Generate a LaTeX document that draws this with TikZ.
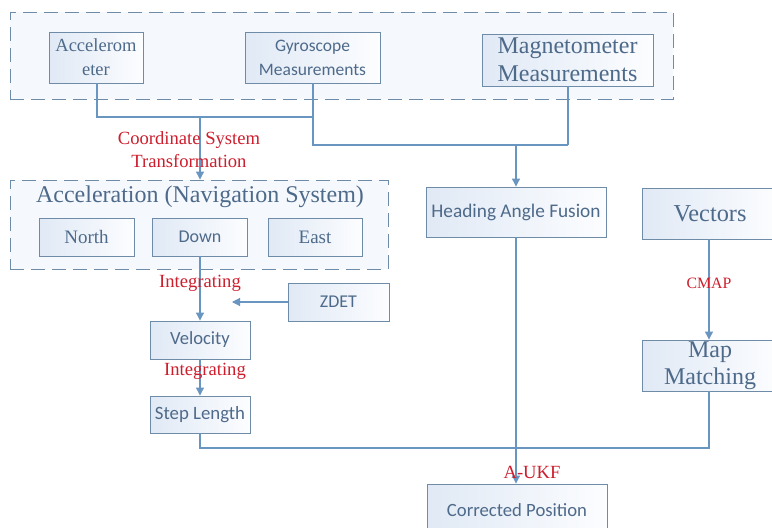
\documentclass[tikz,border=0pt]{standalone}
\usepackage{fontspec}
\setmainfont{Liberation Serif}
\newfontfamily\calib{Carlito}
\usetikzlibrary{arrows.meta}
\definecolor{lineblue}{RGB}{105,150,192}
\definecolor{boxline}{RGB}{110,140,168}
\definecolor{txtblue}{RGB}{78,106,138}
\definecolor{redlab}{RGB}{205,30,45}
\definecolor{boxleft}{RGB}{224,233,245}
\definecolor{boxright}{RGB}{252,253,255}
\definecolor{contfill}{RGB}{245,248,252}
\tikzset{
  box/.style={draw=boxline, line width=0.9pt, left color=boxleft, right color=boxright,
    inner sep=0pt, align=center, text=txtblue},
  sansbox/.style={box, font=\calib\fontsize{18}{24}\selectfont},
  serifbox/.style={box, font=\fontsize{19}{24}\selectfont},
  bigserif/.style={box, font=\fontsize{24}{28}\selectfont},
  container/.style={draw=boxline, line width=0.9pt, dash pattern=on 14pt off 7pt, fill=contfill, inner sep=0pt},
  conn/.style={draw=lineblue, line width=1.1pt},
  arr/.style={conn, -{Triangle[length=8pt,width=8pt]}},
  redlabel/.style={text=redlab, font=\fontsize{18.6}{23}\selectfont, align=center, inner sep=0pt},
}
\begin{document}
\begin{tikzpicture}[x=1pt,y=-1pt]
\useasboundingbox (0,0) rectangle (772,528);
\clip (0,0) rectangle (772,528);
\fill[white] (0,0) rectangle (772,528);
% containers
\node[container, minimum width=663pt, minimum height=87pt] (top) at (341.5,55.5) {};
\node[container, minimum width=378pt, minimum height=89pt] (accnav) at (199,224.5) {};
% top boxes
\node[serifbox, minimum width=94pt, minimum height=51pt, font=\fontsize{18.5}{24}\selectfont] (acc) at (96,57.5) {Accelerom\\eter};
\node[sansbox, minimum width=135pt, minimum height=51pt, font=\calib\fontsize{17.5}{24}\selectfont] (gyro) at (312.5,57.5) {Gyroscope\\Measurements};
\node[bigserif, minimum width=171pt, minimum height=52pt] (mag) at (567.5,60) {Magnetometer\\Measurements};
% acceleration
\node[text=txtblue, font=\fontsize{24}{28}\selectfont, inner sep=0pt] (acctitle) at (200,197) {Acceleration (Navigation System)};
\node[serifbox, minimum width=95pt, minimum height=38pt] (north) at (86.5,237) {North};
\node[sansbox, minimum width=95pt, minimum height=38pt] (down) at (200,237) {Down};
\node[serifbox, minimum width=94pt, minimum height=38pt] (east) at (315,237) {East};
% middle
\node[sansbox, minimum width=180pt, minimum height=50pt, font=\calib\fontsize{19.3}{24}\selectfont] (heading) at (516,212) {Heading Angle Fusion};
\node[bigserif, minimum width=136pt, minimum height=51pt, font=\fontsize{24.3}{28}\selectfont] (vectors) at (710,213.5) {Vectors};
\node[sansbox, minimum width=101pt, minimum height=38pt] (zdet) at (338.5,302) {ZDET};
\node[sansbox, minimum width=100pt, minimum height=38pt, font=\calib\fontsize{18.6}{24}\selectfont] (vel) at (200,340) {Velocity};
\node[sansbox, minimum width=100pt, minimum height=37pt, font=\calib\fontsize{18.8}{24}\selectfont] (step) at (200,414.5) {Step Length};
\node[bigserif, minimum width=136pt, minimum height=51pt, font=\fontsize{24}{27}\selectfont] (mapm) at (710,365.5) {Map\\Matching};
\node[sansbox, minimum width=180pt, minimum height=52pt, font=\calib\fontsize{18.7}{24}\selectfont] (corr) at (517,510) {Corrected Position};
% coordinates
\coordinate (j1) at (97,117);
\coordinate (j2) at (313,117);
\coordinate (j3) at (200,117);
\coordinate (k1) at (313,145);
\coordinate (k2) at (568,145);
\coordinate (k3) at (516,145);
\coordinate (zend) at (232,302);
\coordinate (b1) at (200,448);
\coordinate (b2) at (709,448);
% connectors
\draw[conn] (acc.south -| j1) -- (j1) -- (j2);
\draw[conn] (gyro.south -| j2) -- (k1) -- (k2);
\draw[conn] (mag.south -| k2) -- (k2);
\draw[arr] (k3) -- (heading.north -| k3);
\draw[arr] (j3) -- (accnav.north -| j3);
\draw[arr] (down.south) -- (vel.north);
\draw[arr] (zdet.west) -- (zend);
\draw[arr] (vel.south) -- (step.north);
\draw[conn] (step.south -| b1) -- (b1) -- (b2) -- (mapm.south -| b2);
\draw[arr] (heading.south) -- (corr.north -| heading.south);
\draw[arr] (vectors.south -| b2) -- (mapm.north -| b2);
% labels
\node[redlabel] (lcst) at (189,150) {Coordinate System\\Transformation};
\node[redlabel] (lint1) at (200,283) {Integrating};
\node[redlabel] (lint2) at (205,371) {Integrating};
\node[redlabel, font=\fontsize{15.8}{20}\selectfont] (lcmap) at (709,283) {CMAP};
\node[redlabel] (lukf) at (532,472) {A-UKF};
\end{tikzpicture}
\end{document}
